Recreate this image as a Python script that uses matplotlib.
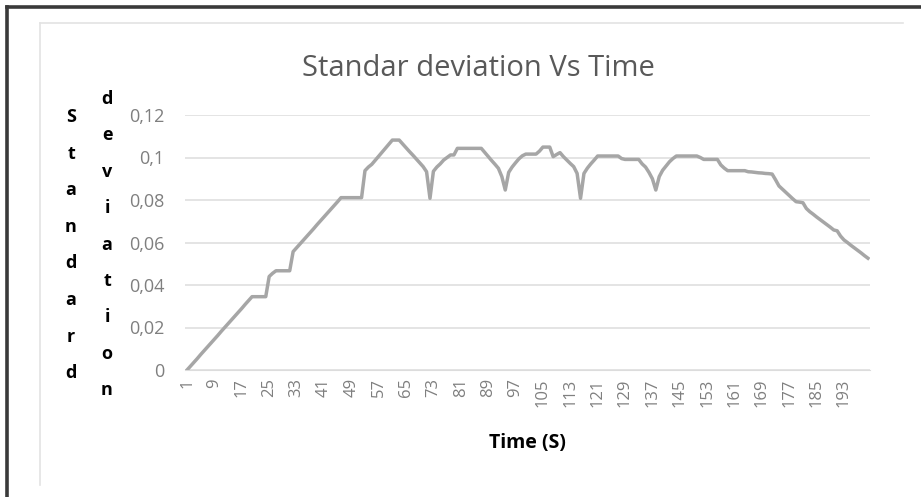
import matplotlib
matplotlib.use('Agg')
from matplotlib import pyplot as plt
from matplotlib.lines import Line2D
import numpy as np

# standard deviation, one value per second (1..200)
stdDev = [
    0.0, 0.0018, 0.0036, 0.0054, 0.0073, 0.0091, 0.0109, 0.0127, 0.0145, 0.0163,
    0.0182, 0.0200, 0.0218, 0.0236, 0.0254, 0.0272, 0.0290, 0.0309, 0.0327, 0.0345,
    0.0345, 0.0345, 0.0345, 0.0345, 0.0440, 0.0455, 0.0467, 0.0467, 0.0467, 0.0467,
    0.0467, 0.0557, 0.0575, 0.0593, 0.0611, 0.0629, 0.0647, 0.0665, 0.0684, 0.0702,
    0.0720, 0.0738, 0.0756, 0.0774, 0.0792, 0.0811, 0.0811, 0.0811, 0.0811, 0.0811,
    0.0811, 0.0811, 0.0938, 0.0955, 0.0968, 0.0987, 0.1006, 0.1025, 0.1044, 0.1063,
    0.1082, 0.1082, 0.1082, 0.1064, 0.1046, 0.1028, 0.1011, 0.0993, 0.0975, 0.0957,
    0.0933, 0.0808, 0.0935, 0.0955, 0.0970, 0.0988, 0.1000, 0.1012, 0.1012, 0.1043,
    0.1043, 0.1043, 0.1043, 0.1043, 0.1043, 0.1043, 0.1043, 0.1024, 0.1005, 0.0986,
    0.0968, 0.0949, 0.0910, 0.0847, 0.0930, 0.0955, 0.0975, 0.0994, 0.1008, 0.1016,
    0.1016, 0.1016, 0.1016, 0.1030, 0.1049, 0.1049, 0.1049, 0.1004, 0.1014, 0.1023,
    0.1004, 0.0988, 0.0972, 0.0957, 0.0925, 0.0808, 0.0925, 0.0950, 0.0970, 0.0988,
    0.1007, 0.1007, 0.1007, 0.1007, 0.1007, 0.1007, 0.1007, 0.0995, 0.0991, 0.0991,
    0.0991, 0.0991, 0.0991, 0.0970, 0.0955, 0.0930, 0.0900, 0.0847, 0.0910, 0.0940,
    0.0960, 0.0980, 0.0995, 0.1007, 0.1007, 0.1007, 0.1007, 0.1007, 0.1007, 0.1007,
    0.1000, 0.0991, 0.0991, 0.0991, 0.0991, 0.0991, 0.0965, 0.0950, 0.0938, 0.0938,
    0.0938, 0.0938, 0.0938, 0.0938, 0.0933, 0.0932, 0.0930, 0.0928, 0.0927, 0.0925,
    0.0924, 0.0922, 0.0895, 0.0866, 0.0851, 0.0836, 0.0821, 0.0806, 0.0792, 0.0790,
    0.0787, 0.0760, 0.0745, 0.0733, 0.0720, 0.0708, 0.0696, 0.0684, 0.0672, 0.0659,
    0.0655, 0.0630, 0.0612, 0.0600, 0.0587, 0.0575, 0.0563, 0.0551, 0.0538, 0.0526,
]
timeS = list(range(1, len(stdDev) + 1))
xTicks = list(range(1, 200, 8))
yTicks = [0, 0.02, 0.04, 0.06, 0.08, 0.1, 0.12]
yTickLabels = ['0', '0,02', '0,04', '0,06', '0,08', '0,1', '0,12']

plt.rcParams['font.family'] = ['Open Sans', 'DejaVu Sans']

W, H = 921, 497
fig = plt.figure(figsize=(W / 100, H / 100), dpi=100)
fig.patch.set_facecolor('white')

# outer dark frame (top and left only visible) and the light chart box
fig.add_artist(Line2D([7 / W, 1], [1 - 7 / H, 1 - 7 / H], color='#3a3a3a', lw=2.6))
fig.add_artist(Line2D([7 / W, 7 / W], [0, 1 - 7 / H], color='#3a3a3a', lw=2.6))
fig.add_artist(Line2D([40 / W, 903 / W], [1 - 23 / H, 1 - 23 / H], color='#e3e3e3', lw=1.2))
fig.add_artist(Line2D([40 / W, 40 / W], [1 - 485 / H, 1 - 23 / H], color='#e3e3e3', lw=1.2))

ax = fig.add_axes([185 / W, 1 - 370 / H, (870 - 185) / W, (370 - 115) / H])
ax.plot(timeS, stdDev, color='#a6a6a6', lw=2.5, solid_joinstyle='round')
ax.set_xlim(0.4, 200.6)
ax.set_ylim(0, 0.12)
ax.set_yticks(yTicks)
ax.set_yticklabels(yTickLabels)
ax.set_xticks(xTicks)
ax.set_xticklabels([str(t) for t in xTicks], rotation=90)
ax.grid(axis='y', color='#dcdcdc', lw=1.1)
ax.set_axisbelow(True)
for s in ['top', 'right', 'left']:
    ax.spines[s].set_visible(False)
ax.spines['bottom'].set_color('#dcdcdc')
ax.tick_params(axis='both', length=0, colors='#7f7f7f', labelsize=13)
ax.tick_params(axis='y', pad=15)
ax.tick_params(axis='x', pad=6, labelsize=12)

fig.text(478 / W, 1 - 68 / H, 'Standar deviation Vs Time', ha='center', va='center',
         fontsize=21, color='#595959')
fig.text(527 / W, 1 - 443 / H, 'Time (S)', ha='center', va='center',
         fontsize=14, fontweight='bold', color='#000000')

# stacked vertical axis title, two columns of letters
for k, ch in enumerate('Standard'):
    fig.text(71 / W, 1 - (117 + k * 36.6) / H, ch, ha='center', va='center',
             fontsize=13, fontweight='bold', color='black')
for k, ch in enumerate('deviation'):
    fig.text(107 / W, 1 - (99 + k * 36.4) / H, ch, ha='center', va='center',
             fontsize=13, fontweight='bold', color='black')

fig.savefig('out.png', dpi=100)
